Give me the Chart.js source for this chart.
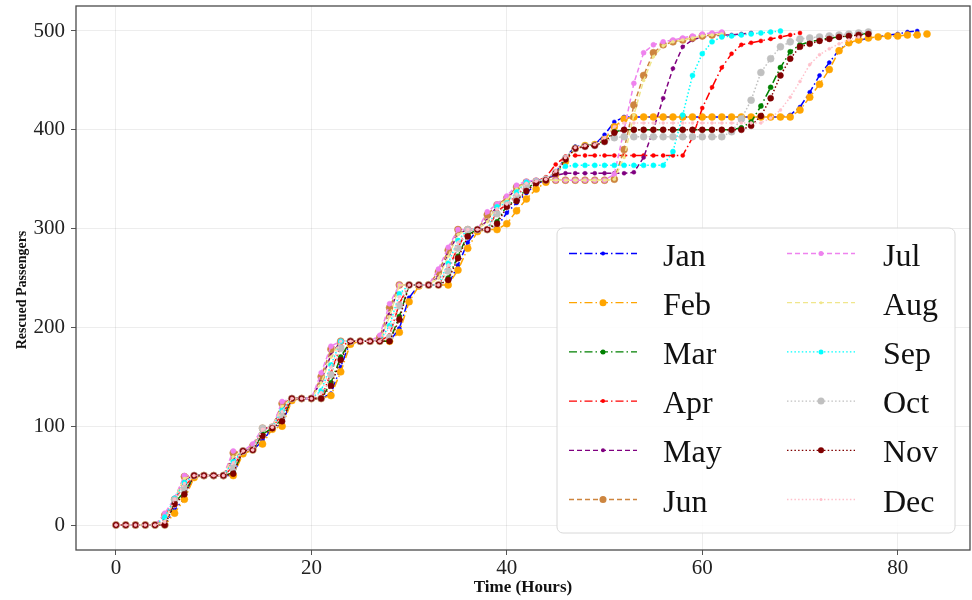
<!DOCTYPE html>
<html>
<head>
<meta charset="utf-8">
<script src="https://cdn.jsdelivr.net/npm/chart.js@4.4.0/dist/chart.umd.min.js"></script>
<style>
html,body{margin:0;padding:0;background:#fff;}
#wrap{position:relative;width:972px;height:600px;}
canvas{display:block;}
</style>
</head>
<body>
<div id="wrap"><canvas id="c" width="972" height="600"></canvas></div>
<script>
// ---- data (hourly samples) ----
const hours = [0,1,2,3,4,5,6,7,8,9,10,11,12,13,14,15,16,17,18,19,20,21,22,23,24,25,26,27,28,29,30,31,32,33,34,35,36,37,38,39,40,41,42,43,44,45,46,47,48,49,50,51,52,53,54,55,56,57,58,59,60,61,62,63,64,65,66,67,68,69,70,71,72,73,74,75,76,77,78,79,80,81,82,83,84];
const months = ['Jan','Feb','Mar','Apr','May','Jun','Jul','Aug','Sep','Oct','Nov','Dec'];

const jan = [0,0,0,0,0,0,15,27,50,50,
  50,50,50,75,76,85,98,102,128,128,
  128,128,133,160,186,186,186,186,186,199,
  230,243,243,243,243,263,286,299,299,302,
  316,326,336,345,349,357,372,383,384,385,
  395,408,413,413,413,413,413,413,413,413,
  413,413,413,413,413,413,413,413,413,415,
  423,438,455,468,481,488,490,493,494,496,
  497,499,500];
const feb = [0,0,0,0,0,0,12,26,48,50,
  50,50,50,72,76,82,97,100,126,128,
  128,128,131,155,183,186,186,186,186,195,
  226,242,243,243,243,258,280,297,299,299,
  305,318,330,340,347,355,368,381,384,385,
  390,403,411,413,413,413,413,413,413,413,
  413,413,413,413,413,413,413,413,413,413,
  420,433,446,461,480,488,491,493,494,495,
  495,496,496,497];
const mar = [0,0,0,0,0,0,23,33,50,50,
  50,50,53,75,76,92,98,107,128,128,
  128,128,144,170,186,186,186,186,186,211,
  243,243,243,243,250,272,294,299,299,307,
  323,329,340,347,349,357,371,382,384,385,
  389,398,400,400,400,400,400,400,400,400,
  400,400,400,400,402,408,424,443,463,479,
  486,489,491,493,494,495,496,498];
const apr = [0,0,0,0,0,0,27,39,50,50,
  50,50,59,75,76,98,99,112,128,128,
  128,128,154,181,186,186,186,186,192,224,
  243,243,243,243,259,281,299,299,299,317,
  325,333,344,348,352,365,373,374,374,374,
  374,374,374,374,374,374,374,374,374,392,
  422,443,463,477,486,488,490,492,494,496,
  498];
const may = [0,0,0,0,0,5,27,46,50,50,
  50,50,68,75,76,97,99,118,128,128,
  128,146,172,186,186,186,186,186,213,243,
  243,243,243,251,274,295,299,299,308,323,
  330,341,347,349,350,354,356,356,356,356,
  356,356,356,357,372,400,432,462,484,491,
  494,495,496,496,497,498];
const jun = [0,0,0,0,0,10,26,49,50,50,
  50,50,73,75,80,98,99,123,128,128,
  128,150,178,186,186,186,186,190,220,243,
  243,243,243,256,278,299,299,299,314,324,
  331,342,347,348,349,349,349,349,349,349,
  349,350,380,425,455,478,486,489,491,493,
  495,496,497];
const jul = [0,0,0,0,0,12,27,50,50,50,
  50,50,75,75,82,98,99,125,128,128,
  128,154,181,186,186,186,186,192,224,243,
  243,243,243,259,281,299,299,299,317,325,
  333,344,348,349,349,349,349,349,349,349,
  349,355,400,447,478,486,489,491,493,495,
  497,498,499];
const aug = [0,0,0,0,0,4,27,47,50,50,
  50,50,69,75,76,98,99,120,128,128,
  128,144,170,186,186,186,186,186,211,243,
  243,243,243,250,272,294,299,299,307,323,
  329,340,347,349,349,349,349,349,349,349,
  349,350,372,415,450,474,485,489,491,493,
  495,496,497];
const sep = [0,0,0,0,0,8,27,43,50,50,
  50,50,64,75,76,98,99,116,128,128,
  128,136,162,186,186,186,186,186,202,234,
  243,243,243,243,265,288,299,299,299,322,
  326,337,347,348,350,357,363,364,364,364,
  364,364,364,364,364,364,364,378,415,455,
  477,489,494,495,496,497,498,499,500];
const oct = [0,0,0,0,0,0,25,37,50,50,
  50,50,58,75,76,98,99,110,128,128,
  128,128,152,179,186,186,186,186,190,222,
  243,243,243,243,257,280,299,299,299,315,
  324,332,343,347,350,357,371,381,383,384,
  388,392,393,393,393,393,393,393,393,393,
  393,393,393,398,411,430,458,472,484,489,
  492,493,494,495,496,497,498,499];
const nov = [0,0,0,0,0,0,21,31,50,50,
  50,50,52,75,76,90,98,105,128,128,
  128,128,141,167,186,186,186,186,186,208,
  243,243,243,243,248,270,292,299,299,305,
  322,328,338,346,349,356,370,381,383,384,
  388,397,400,400,400,400,400,400,400,400,
  400,400,400,400,400,404,414,432,455,472,
  484,487,490,492,494,495,496,497];
const dec = [0,0,0,0,0,3,26,42,50,50,
  50,50,63,75,76,97,99,115,128,128,
  128,134,160,186,186,186,186,186,200,231,
  243,243,243,243,263,286,299,299,299,320,
  325,335,346,348,350,358,372,382,384,385,
  392,403,407,407,407,407,407,407,407,407,
  407,407,407,407,407,407,407,412,420,433,
  449,466,476,482,487,491,494];

const xTickValues = [0,20,40,60,80];
const yTickValues = [0,100,200,300,400,500];

// ---- styles ----
const seriesValues = [jan,feb,mar,apr,may,jun,jul,aug,sep,oct,nov,dec];
const colors = ['#0000ff','#ffa500','#008000','#ff0000','#800080','#cd853f','#ee82ee','#f0e68c','#00ffff','#c0c0c0','#800000','#ffc0cb'];
const DASHDOT=[8,3,1.5,3], DASHED=[5,3], DOTTED=[1.5,2.2];
const dashes = [DASHDOT,DASHDOT,DASHDOT,DASHDOT,DASHED,DASHED,DASHED,DASHED,DOTTED,DOTTED,DOTTED,DOTTED];
const radii = [2,3.5,2.5,2,2,3.5,2.5,1.5,2.5,3.5,3,1.5];

const datasets = months.map((m,i)=>({
  label: m,
  data: seriesValues[i].map((v,k)=>({x: hours[k], y: v})),
  borderColor: colors[i],
  backgroundColor: colors[i],
  pointBackgroundColor: colors[i],
  pointBorderColor: colors[i],
  pointRadius: radii[i],
  pointBorderWidth: 0.5,
  borderWidth: 1.5,
  borderDash: dashes[i],
  tension: 0,
  fill: false,
  order: 12 - i
}));

const SERIF = "'Liberation Serif','DejaVu Serif',serif";

const decor = {
  id: 'decor',
  beforeDatasetsDraw(chart){
    const {ctx, chartArea:a} = chart;
    ctx.save();
    ctx.strokeStyle = '#4a4a4a';
    ctx.lineWidth = 1.3;
    ctx.strokeRect(a.left, a.top, a.right-a.left, a.bottom-a.top);
    ctx.restore();
  },
  afterDraw(chart){
    const {ctx, chartArea:a} = chart;
    ctx.save();
    // axis titles
    ctx.fillStyle = '#111';
    ctx.font = "bold 17px " + SERIF;
    ctx.textAlign = 'center';
    ctx.textBaseline = 'alphabetic';
    ctx.fillText('Time (Hours)', (a.left+a.right)/2, 592);
    ctx.save();
    ctx.translate(26, 290);
    ctx.rotate(-Math.PI/2);
    ctx.font = "bold 14px " + SERIF;
    ctx.fillText('Rescued Passengers', 0, 0);
    ctx.restore();

    // legend
    const bx=557, by=228, bw=398, bh=305;
    ctx.beginPath();
    ctx.roundRect(bx, by, bw, bh, 6);
    ctx.fillStyle = 'rgba(255,255,255,0.85)';
    ctx.fill();
    ctx.strokeStyle = '#d8d8d8';
    ctx.lineWidth = 1;
    ctx.stroke();
    const rowY0 = 253.5, rowH = 49.2;
    const cols = [{x0:569,x1:637,tx:663},{x0:787,x1:855,tx:883}];
    chart.data.datasets.forEach((ds,i)=>{
      const c = cols[Math.floor(i/6)];
      const y = rowY0 + (i%6)*rowH;
      ctx.beginPath();
      ctx.setLineDash(ds.borderDash);
      ctx.strokeStyle = ds.borderColor;
      ctx.lineWidth = 1.3;
      ctx.moveTo(c.x0, y); ctx.lineTo(c.x1, y);
      ctx.stroke();
      ctx.setLineDash([]);
      ctx.beginPath();
      ctx.arc((c.x0+c.x1)/2, y, ds.pointRadius, 0, Math.PI*2);
      ctx.fillStyle = ds.pointBackgroundColor;
      ctx.fill();
      ctx.fillStyle = '#111';
      ctx.font = "32px " + SERIF;
      ctx.textAlign = 'left';
      ctx.textBaseline = 'alphabetic';
      ctx.fillText(ds.label, c.tx, y + 12);
    });
    ctx.restore();
  }
};

new Chart(document.getElementById('c'), {
  type: 'line',
  data: { datasets },
  options: {
    responsive: false,
    animation: false,
    devicePixelRatio: 1,
    layout: { autoPadding: false, padding: { top: 6, right: 2, left: 0, bottom: 0 } },
    plugins: { legend: { display: false }, tooltip: { enabled: false } },
    scales: {
      x: {
        type: 'linear',
        min: -4.09, max: 87.4,
        afterBuildTicks: s => { s.ticks = xTickValues.map(v=>({value:v})); },
        afterFit: s => { s.height = 50; s.paddingLeft = 0; s.paddingRight = 0; },
        grid: { color: 'rgba(0,0,0,0.07)', tickColor: '#555', tickLength: 5, drawTicks: true },
        border: { display: false },
        ticks: { font: { family: SERIF, size: 21 }, color: '#222', padding: 1, maxRotation: 0 }
      },
      y: {
        type: 'linear',
        min: -25.3, max: 525.3,
        afterBuildTicks: s => { s.ticks = yTickValues.map(v=>({value:v})); },
        afterFit: s => { s.width = 76; s.paddingTop = 0; s.paddingBottom = 0; },
        grid: { color: 'rgba(0,0,0,0.07)', tickColor: '#555', tickLength: 5, drawTicks: true },
        border: { display: false },
        ticks: { font: { family: SERIF, size: 21 }, color: '#222', padding: 6 }
      }
    }
  },
  plugins: [decor]
});
</script>
</body>
</html>
